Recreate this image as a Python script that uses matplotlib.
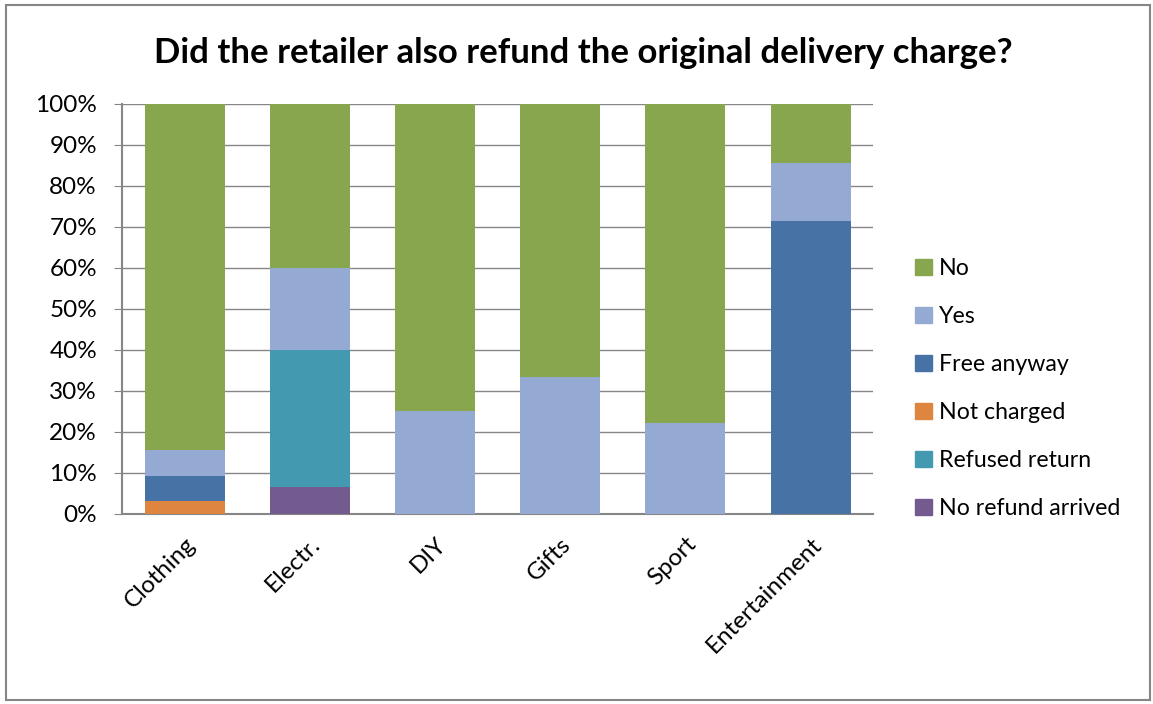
import numpy as np
import matplotlib.pyplot as plt
from matplotlib.patches import Rectangle, Patch

plt.rcParams.update({
    "font.family": ["Lato", "DejaVu Sans"],
})

categories = ["Clothing", "Electr.", "DIY", "Gifts", "Sport", "Entertainment"]

# shares in percent, stacked from bottom to top
no_refund_arrived = [0.0, 6.67, 0.0, 0.0, 0.0, 0.0]
refused_return = [0.0, 33.33, 0.0, 0.0, 0.0, 0.0]
not_charged = [3.125, 0.0, 0.0, 0.0, 0.0, 0.0]
free_anyway = [6.25, 0.0, 0.0, 0.0, 0.0, 71.43]
yes = [6.25, 20.0, 25.0, 33.33, 22.22, 14.29]
no = [84.375, 40.0, 75.0, 66.67, 77.78, 14.28]

series = [
    ("No refund arrived", no_refund_arrived, "#735A8F"),
    ("Refused return", refused_return, "#4399B0"),
    ("Not charged", not_charged, "#DE8540"),
    ("Free anyway", free_anyway, "#4672A5"),
    ("Yes", yes, "#95AAD3"),
    ("No", no, "#88A64E"),
]

fig = plt.figure(figsize=(11.53, 7.04), dpi=100)
ax = fig.add_axes([0.1058, 0.2699, 0.6515, 0.5824])

x = np.arange(len(categories))
bottom = np.zeros(len(categories))
for name, vals, col in series:
    vals = np.array(vals)
    ax.bar(x, vals, bottom=bottom, width=0.64, color=col, zorder=3)
    bottom += vals

ax.set_xlim(-0.5, len(categories) - 0.5)
ax.set_ylim(0, 100)
ax.set_yticks(np.arange(0, 101, 10))
ax.set_yticklabels([f"{v}%" for v in range(0, 101, 10)], fontsize=17.5)
ax.set_xticks(x)
ax.set_xticklabels(categories, rotation=45, ha="right", rotation_mode="anchor",
                   fontsize=17.5)
ax.tick_params(axis="x", length=0, pad=14)
ax.tick_params(axis="y", length=6, color="#868686", pad=12)
ax.grid(axis="y", color="#868686", lw=1.0, zorder=0)
for s in ["top", "right"]:
    ax.spines[s].set_visible(False)
for s in ["left", "bottom"]:
    ax.spines[s].set_color("#868686")
    ax.spines[s].set_linewidth(1.5)

handles = [Patch(color=col, label=name) for name, vals, col in series[::-1]]
fig.legend(handles=handles, loc="center left", bbox_to_anchor=(0.794, 0.448),
           frameon=False, fontsize=16.7, handlelength=0.7, handleheight=0.7,
           handletextpad=0.3, labelspacing=1.17, borderpad=0, borderaxespad=0)

fig.text(0.506, 0.925, "Did the retailer also refund the original delivery charge?",
         ha="center", va="center", fontsize=25, fontweight="bold")

fig.patches.append(Rectangle((0.005, 0.006), 0.992, 0.987, transform=fig.transFigure,
                             fill=False, edgecolor="#868686", lw=1.5))

fig.savefig("out.png", dpi=100)
